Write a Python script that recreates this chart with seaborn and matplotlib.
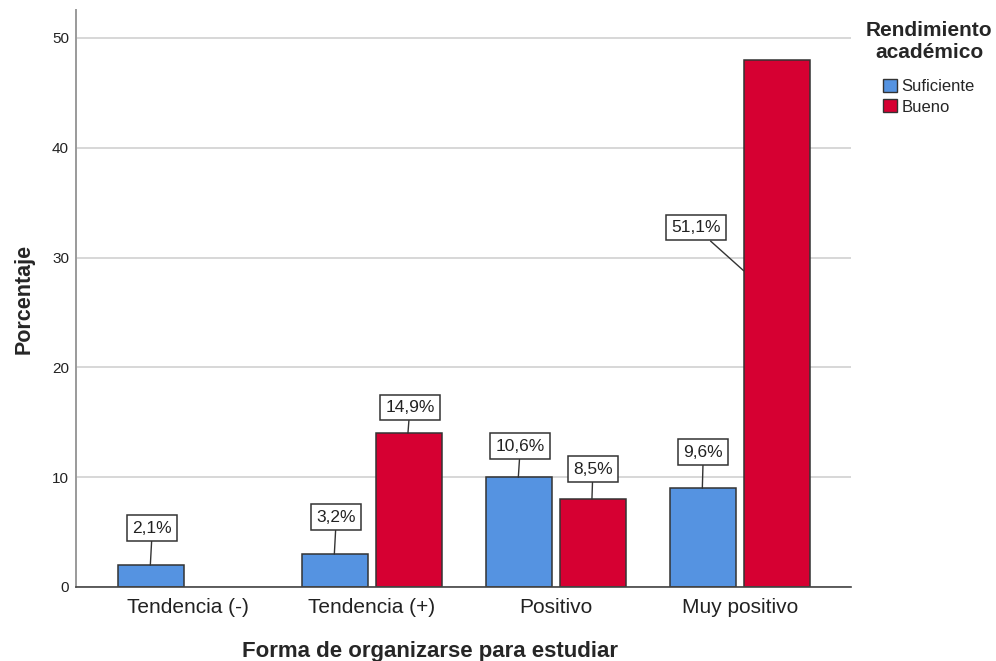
import numpy as np
import pandas as pd
import matplotlib
matplotlib.use("Agg")
import matplotlib.pyplot as plt
from matplotlib.patches import Patch
import seaborn as sns

# Datos / Data
categorias = ["Tendencia (-)", "Tendencia (+)", "Positivo", "Muy positivo"]
niveles = ["Suficiente", "Bueno"]
suficiente = [2, 3, 10, 9]
bueno = [np.nan, 14, 8, 48]
etiq_suficiente = ["2,1%", "3,2%", "10,6%", "9,6%"]
etiq_bueno = ["", "14,9%", "8,5%", "51,1%"]

df = pd.DataFrame({
    "forma": categorias * 2,
    "rendimiento": [niveles[0]] * 4 + [niveles[1]] * 4,
    "porcentaje": suficiente + bueno,
})

colores = {"Suficiente": "#5593E1", "Bueno": "#D60032"}

sns.set_style("white")
plt.rcParams["font.family"] = ["Liberation Sans", "DejaVu Sans"]

fig = plt.figure(figsize=(9.96, 6.61), dpi=100)
ax = fig.add_axes([76 / 996, 74 / 661, 775 / 996, 577 / 661])

sns.barplot(data=df, x="forma", y="porcentaje", hue="rendimiento",
            order=categorias, hue_order=niveles, palette=colores,
            saturation=1, width=0.8, gap=0.1, edgecolor="#333333",
            linewidth=1.1, legend=False, ax=ax)

ax.set_xlim(-0.609, 3.603)
ax.set_ylim(0, 52.55)
ax.set_yticks([0, 10, 20, 30, 40, 50])
ax.yaxis.grid(True, color="#D4D4D4", lw=1.3)
ax.set_axisbelow(True)
ax.tick_params(axis="both", length=0)
ax.tick_params(axis="y", labelsize=11, pad=5, colors="#222222")
ax.tick_params(axis="x", labelsize=15, pad=8, colors="#222222")
for s in ["top", "right"]:
    ax.spines[s].set_visible(False)
ax.spines["left"].set_color("#9A9A9A")
ax.spines["left"].set_linewidth(1.4)
ax.spines["bottom"].set_color("#444444")
ax.spines["bottom"].set_linewidth(1.2)

ax.set_xlabel("Forma de organizarse para estudiar", fontsize=16, fontweight="bold")
ax.set_ylabel("Porcentaje", fontsize=15.5, fontweight="bold")
ax.xaxis.set_label_coords(0.457, -0.093)
ax.yaxis.set_label_coords(-0.053, 0.5)

# Etiquetas con línea guía / Labels with leader line
desplaz = {
    ("Suficiente", 0): (2, 37), ("Suficiente", 1): (2, 37),
    ("Suficiente", 2): (2, 31), ("Suficiente", 3): (1, 36),
    ("Bueno", 1): (2, 26), ("Bueno", 2): (1, 30), ("Bueno", 3): (-48, 43),
}
etiquetas = {"Suficiente": etiq_suficiente, "Bueno": etiq_bueno}
for nivel, cont in zip(niveles, ax.containers):
    for bar in cont:
        h = bar.get_height()
        if not np.isfinite(h) or h <= 0:
            continue
        xc = bar.get_x() + bar.get_width() / 2
        idx = int(round(xc))
        txt = etiquetas[nivel][idx]
        dx, dy = desplaz[(nivel, idx)]
        if nivel == "Bueno" and idx == 3:
            punto = (bar.get_x(), h * 0.6)
        else:
            punto = (xc - 0.005, h)
        ax.annotate(txt, xy=punto, xytext=(dx, dy), textcoords="offset pixels",
                    ha="center", va="center", fontsize=12.5, color="#222222",
                    bbox=dict(boxstyle="square,pad=0.3", fc="white", ec="#333333", lw=1.1),
                    arrowprops=dict(arrowstyle="-", color="#333333", lw=1,
                                    shrinkA=0, shrinkB=0))

handles = [Patch(facecolor=colores[n], edgecolor="#333333", lw=1) for n in niveles]
leg = fig.legend(handles, niveles, title="Rendimiento\nacadémico",
                 loc="upper center", bbox_to_anchor=(929 / 996, 1 - 21 / 661),
                 frameon=False, fontsize=12, handlelength=0.85, handleheight=0.85,
                 handletextpad=0.25, labelspacing=0.3, borderaxespad=0,
                 borderpad=0)
leg.get_title().set_fontweight("bold")
leg.get_title().set_fontsize(15)
leg.get_title().set_multialignment("center")
leg._legend_box.align = "center"
leg._legend_box.sep = 12

fig.savefig("out.png", dpi=100)
